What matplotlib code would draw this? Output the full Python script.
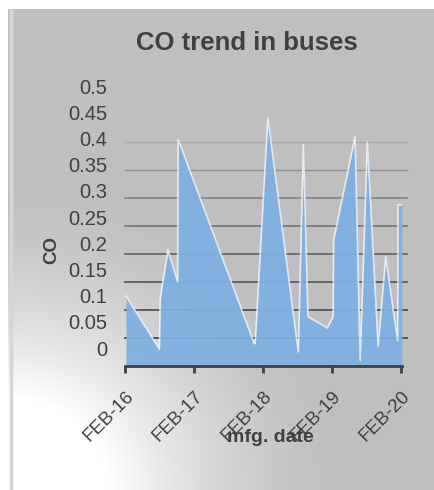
import numpy as np
import pandas as pd
import matplotlib
matplotlib.use('Agg')
import matplotlib.pyplot as plt

plt.rcParams['font.family'] = ['Liberation Sans', 'DejaVu Sans']

# data
dates = pd.to_datetime([
    '2016-02-06', '2016-08-01', '2016-08-05', '2016-09-15', '2016-11-05',
    '2016-11-08', '2017-12-15', '2017-12-20', '2018-02-25', '2018-08-05',
    '2018-09-01', '2018-09-25', '2019-01-05', '2019-02-05', '2019-02-08',
    '2019-06-01', '2019-06-28', '2019-08-05', '2019-10-01', '2019-11-10',
    '2020-01-12', '2020-01-14', '2020-02-04'])
co = [0.125, 0.03, 0.12, 0.207, 0.15,
      0.405, 0.04, 0.04, 0.443, 0.025,
      0.395, 0.088, 0.068, 0.088, 0.225,
      0.41, 0.01, 0.40, 0.035, 0.195,
      0.045, 0.288, 0.288]
yticks = [0, 0.05, 0.1, 0.15, 0.2, 0.25, 0.3, 0.35, 0.4, 0.45, 0.5]
ylabels = ['0', '0.05', '0.1', '0.15', '0.2', '0.25', '0.3', '0.35', '0.4', '0.45', '0.5']
year_ticks = pd.to_datetime(['2016-02-01', '2017-02-01', '2018-02-01', '2019-02-01', '2020-02-01'])

fig = plt.figure(figsize=(4.35, 4.9), dpi=100)
fig.patch.set_facecolor('white')

# background: gray panel, white glow from bottom-left corner
bg = fig.add_axes([8/435, 0, 1 - 8/435, 1 - 9/490])
bg.axis('off')
H, W = 481, 427
yy, xx = np.mgrid[0:H, 0:W]
r = np.hypot(xx * 1.0, (H - 1 - yy) * 1.1)
t = np.clip((r - 100) / 240, 0, 1)
grey = 0.75 + 0.25 * (1 - t) ** 1.6
img = np.dstack([grey, grey, grey])
bg.imshow(img, aspect='auto', extent=[0, 1, 0, 1], origin='upper')
bg.set_xlim(0, 1)
bg.set_ylim(0, 1)
bg.axvline(0.006, color='#d6d6d6', lw=2.5)

ax = fig.add_axes([125/435, 1 - 366/490, 277/435, 280/490])
ax.patch.set_alpha(0)
for y in yticks[1:-1]:
    shade = 0.30 + 0.45 * (y / 0.45) ** 2
    ax.axhline(y, xmin=0, xmax=1.018, color=str(shade), lw=1.4 - y, zorder=1, clip_on=False)
ax.fill_between(dates, co, 0, color='#7fb0e2', alpha=0.95, lw=0, zorder=2)
ax.plot(dates, co, color='white', lw=1.2, alpha=0.7, zorder=3)

ax.set_ylim(0, 0.5)
ax.set_xlim(pd.Timestamp('2016-02-01'), pd.Timestamp('2020-02-04'))
ax.set_yticks([])
ax.set_xticks(year_ticks)
ax.set_xticklabels([d.strftime('%b-%y').upper() for d in year_ticks],
                   rotation=45, ha='right', rotation_mode='anchor')
ax.tick_params(axis='x', length=5, width=2, color='#404040', pad=11,
               labelsize=13.5, labelcolor='#404040')
for s in ['top', 'right', 'left']:
    ax.spines[s].set_visible(False)
ax.spines['bottom'].set_color('#404040')
ax.spines['bottom'].set_linewidth(2)

# value labels sit on a slightly squeezed scale, as in the picture
lab = fig.add_axes([125/435, 1 - 348/490, 277/435, 262/490])
lab.patch.set_alpha(0)
lab.set_ylim(0, 0.5)
lab.set_yticks(yticks)
lab.set_yticklabels(ylabels)
lab.set_xticks([])
lab.tick_params(axis='y', length=0, pad=13, labelsize=14.5, labelcolor='#404040')
for s in lab.spines.values():
    s.set_visible(False)

fig.text(247/435, 1 - 43/490, 'CO trend in buses', ha='center', va='center',
         fontsize=18.5, fontweight='bold', color='#404040')
fig.text(52/435, 1 - 250/490, 'CO', rotation=90, ha='center', va='center',
         fontsize=13.5, fontweight='bold', color='#404040')
fig.text(270/435, 1 - 437/490, 'mfg. date', ha='center', va='center',
         fontsize=14, fontweight='bold', color='#404040')

fig.savefig('out.png', dpi=100)
